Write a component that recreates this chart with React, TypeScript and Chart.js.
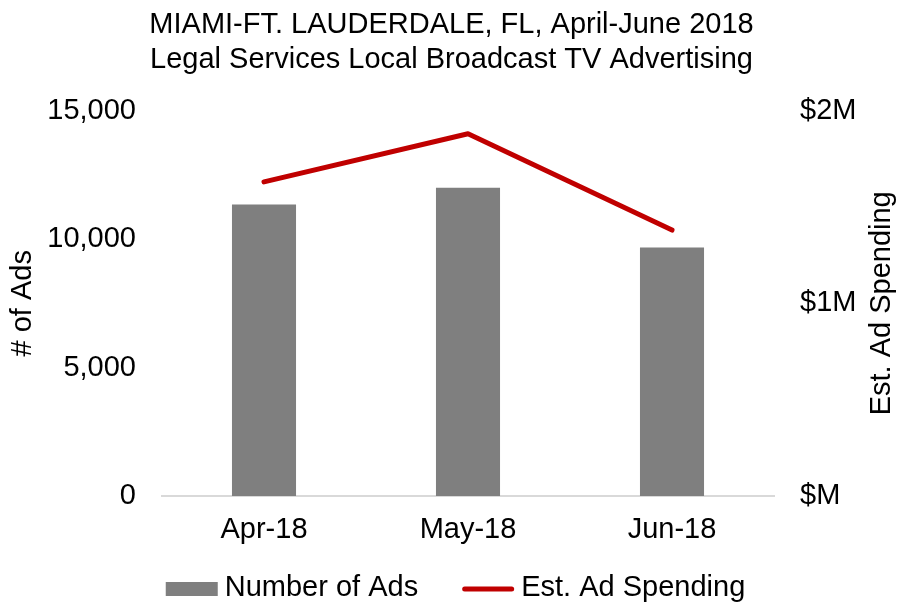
import React, { useEffect, useRef } from "react";
import { Chart, registerables } from "chart.js";

Chart.register(...registerables);

const categories = ["Apr-18", "May-18", "Jun-18"];
const numberOfAds = [11350, 12000, 9670];
const adSpendingM = [1.63, 1.88, 1.38];
const leftTicks = [0, 5000, 10000, 15000];
const rightTicks = [0, 1, 2];
const titleLines = [
  "MIAMI-FT. LAUDERDALE, FL, April-June 2018",
  "Legal Services Local Broadcast TV Advertising",
];
const leftAxisTitle = "# of Ads";
const rightAxisTitle = "Est. Ad Spending";

const FONT = '"Liberation Sans", Arial, Helvetica, sans-serif';
const SIZE = 29;
const BAR_COLOR = "#7f7f7f";
const LINE_COLOR = "#c00000";

const rightTitlePlugin = {
  id: "rightTitle",
  afterDraw(chart: any) {
    const s = chart.scales.y1;
    const { ctx, chartArea } = chart;
    ctx.save();
    ctx.translate(s.right - 21, (chartArea.top + chartArea.bottom) / 2);
    ctx.rotate(-Math.PI / 2);
    ctx.font = `${SIZE}px ${FONT}`;
    ctx.fillStyle = "#000";
    ctx.textAlign = "center";
    ctx.textBaseline = "middle";
    ctx.fillText(rightAxisTitle, 0, 0);
    ctx.restore();
  },
};

const legendPlugin = {
  id: "customLegend",
  afterDraw(chart: any) {
    const { ctx } = chart;
    ctx.save();
    ctx.font = `${SIZE}px ${FONT}`;
    const swatchW = 52;
    const gap = 7;
    const spacing = 44;
    const items = chart.data.datasets.map((ds: any) => ({
      text: ds.label as string,
      type: ds.type as string,
      color: (ds.type === "line" ? ds.borderColor : ds.backgroundColor) as string,
      width: swatchW + gap + ctx.measureText(ds.label).width,
    }));
    const total =
      items.reduce((a: number, it: any) => a + it.width, 0) + spacing * (items.length - 1);
    let x = chart.width / 2 + 4 - total / 2;
    const baseline = chart.height - 6;
    const midY = baseline - 7;
    for (const it of items) {
      if (it.type === "line") {
        ctx.strokeStyle = it.color;
        ctx.lineWidth = 5;
        ctx.lineCap = "round";
        ctx.beginPath();
        ctx.moveTo(x + 2.5, midY);
        ctx.lineTo(x + swatchW - 2.5, midY);
        ctx.stroke();
      } else {
        ctx.fillStyle = it.color;
        ctx.fillRect(x, midY - 7, swatchW, 14);
      }
      ctx.fillStyle = "#000";
      ctx.textAlign = "left";
      ctx.textBaseline = "alphabetic";
      ctx.fillText(it.text, x + swatchW + gap, baseline);
      x += it.width + spacing;
    }
    ctx.restore();
  },
};

export default function App() {
  const ref = useRef<HTMLCanvasElement>(null);

  useEffect(() => {
    const chart = new Chart(ref.current as HTMLCanvasElement, {
      type: "bar",
      data: {
        labels: categories,
        datasets: [
          {
            type: "bar",
            label: "Number of Ads",
            data: numberOfAds,
            yAxisID: "y",
            backgroundColor: BAR_COLOR,
            borderWidth: 0,
            barPercentage: 0.314,
            categoryPercentage: 1,
          } as any,
          {
            type: "line",
            label: "Est. Ad Spending",
            data: adSpendingM,
            yAxisID: "y1",
            borderColor: LINE_COLOR,
            backgroundColor: LINE_COLOR,
            borderWidth: 5,
            borderCapStyle: "round",
            borderJoinStyle: "round",
            pointRadius: 0,
            pointHoverRadius: 0,
            tension: 0,
          } as any,
        ],
      },
      options: {
        responsive: false,
        animation: false,
        events: [],
        layout: { padding: { left: 0, right: 0, top: 0, bottom: 51 } },
        plugins: {
          tooltip: { enabled: false },
          legend: { display: false },
          title: {
            display: true,
            text: titleLines,
            color: "#000",
            font: { family: FONT, size: SIZE, weight: "normal", lineHeight: 1.2 },
            padding: { top: 8, bottom: 33 },
          },
        },
        scales: {
          x: {
            afterFit: (s: any) => {
              s.height = 55;
            },
            grid: { display: false, drawTicks: false },
            border: { display: true, color: "#d9d9d9", width: 2 },
            ticks: { color: "#000", font: { family: FONT, size: SIZE }, padding: 17 },
          },
          y: {
            position: "left",
            min: 0,
            max: 15000,
            afterBuildTicks: (s: any) => {
              s.ticks = leftTicks.map((v) => ({ value: v }));
            },
            afterFit: (s: any) => {
              s.width = 162;
            },
            grid: { display: false, drawTicks: false, tickLength: 0 },
            border: { display: false },
            ticks: {
              color: "#000",
              font: { family: FONT, size: SIZE },
              padding: 26,
              callback: (v: any) => Number(v).toLocaleString("en-US"),
            },
            title: {
              display: true,
              text: leftAxisTitle,
              color: "#000",
              font: { family: FONT, size: SIZE },
              padding: { top: 6, bottom: 0 },
            },
          },
          y1: {
            position: "right",
            min: 0,
            max: 2,
            afterBuildTicks: (s: any) => {
              s.ticks = rightTicks.map((v) => ({ value: v }));
            },
            afterFit: (s: any) => {
              s.width = 129;
            },
            grid: { display: false, drawTicks: false, tickLength: 0 },
            border: { display: false },
            ticks: {
              color: "#000",
              font: { family: FONT, size: SIZE },
              padding: 26,
              callback: (v: any) => (Number(v) === 0 ? "$M" : "$" + v + "M"),
            },
            title: { display: false },
          },
        },
      },
      plugins: [rightTitlePlugin, legendPlugin],
    } as any);
    return () => chart.destroy();
  }, []);

  return (
    <div style={{ position: "fixed", left: 0, top: 0, width: 903, height: 602, background: "#fff" }}>
      <canvas ref={ref} width={903} height={602} style={{ display: "block" }} />
    </div>
  );
}
